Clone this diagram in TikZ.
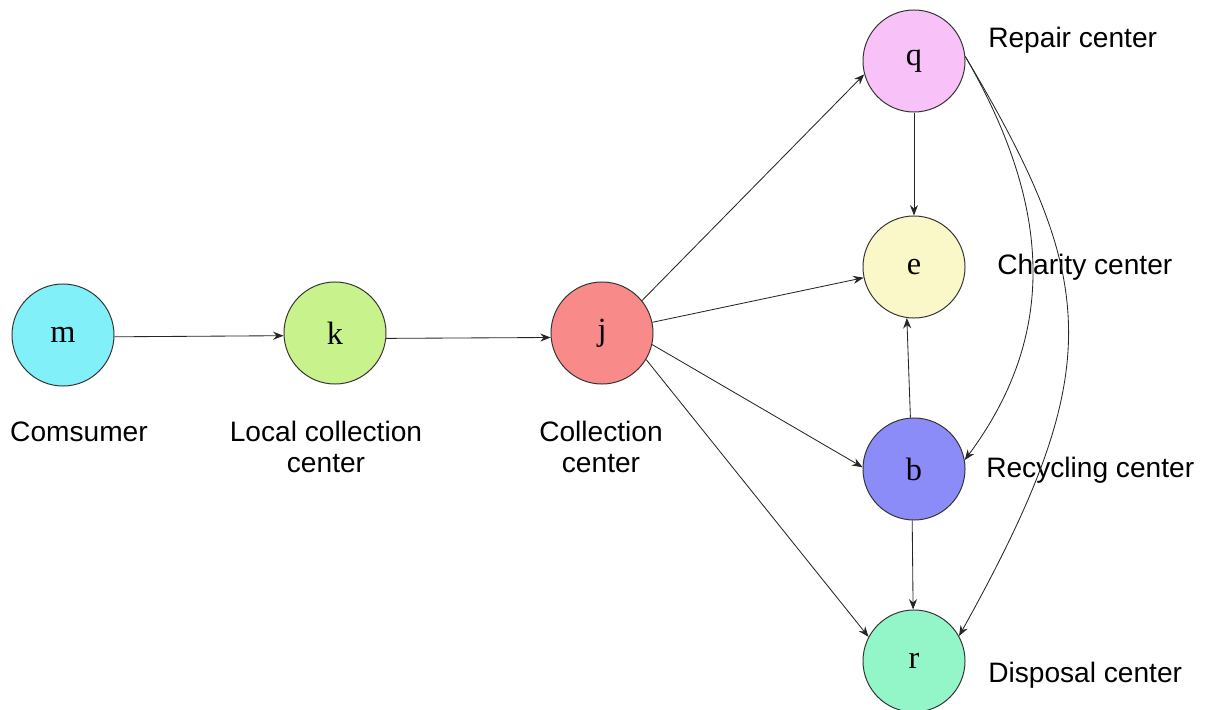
\documentclass[tikz,border=0pt]{standalone}
\usepackage{fontspec}
\setmainfont{Liberation Sans}
\newfontfamily\nodefont{Liberation Serif}
\usetikzlibrary{arrows.meta}
\definecolor{cm}{HTML}{82F0F8}
\definecolor{ck}{HTML}{C8F28C}
\definecolor{cj}{HTML}{F88A8A}
\definecolor{cq}{HTML}{F8C2F8}
\definecolor{ce}{HTML}{FAF8C8}
\definecolor{cb}{HTML}{8C8CF8}
\definecolor{cr}{HTML}{92F6C8}
\definecolor{edge}{HTML}{333333}
\tikzset{
  circ/.style={circle, draw=edge, line width=0.7pt, minimum size=2.55cm, inner sep=0pt,
    font=\nodefont\fontsize{23}{26}\selectfont},
  lbl/.style={font=\fontsize{20}{22.5}\selectfont, align=center, inner sep=0pt},
  conn/.style={draw=black!85, line width=0.6pt, -{Stealth[length=2.6mm,width=2mm]}}
}
\begin{document}
\begin{tikzpicture}[x=0.025cm,y=-0.025cm]
\useasboundingbox (0,0) rectangle (1206,710);
\node[circ, fill=cm] (m) at (63,335) {m};
\node[circ, fill=ck] (k) at (335,333) {k};
\node[circ, fill=cj] (j) at (602,333) {j};
\node[circ, fill=cq] (q) at (914,61) {q};
\node[circ, fill=ce] (e) at (914,267) {e};
\node[circ, fill=cb] (b) at (914,469) {b};
\node[circ, fill=cr] (r) at (914,661) {r};

\node[lbl] (lm) at (79,432) {Comsumer};
\node[lbl] (lk) at (326,447) {Local collection\\center};
\node[lbl] (lj) at (601,447) {Collection\\center};
\node[lbl, anchor=west] (lq) at (988,40) {Repair center};
\node[lbl, anchor=west] (le) at (997,267) {Charity center};
\node[lbl, anchor=west] (lb) at (986,470) {Recycling center};
\node[lbl, anchor=west] (lr) at (988,675) {Disposal center};

\draw[conn] (m.-2) -- (k.183);
\draw[conn] (k.-6) -- (j.185);
\draw[conn] (j.39) -- (q.195);
\draw[conn] (j.12) -- (e.192);
\draw[conn] (j.-13) -- (b.178);
\draw[conn] (j.-31) -- (r.152);
\draw[conn] (q.270) -- (e.90);
\draw[conn] (b.94) -- (e.262);
\draw[conn] (b.268) -- (r.91);
\draw[conn] (q.5) .. controls (1060,220) and (1050,345) .. (b.10);
\draw[conn] (q.5) .. controls (1100,283) and (1107,370) .. (r.29);
\end{tikzpicture}
\end{document}
